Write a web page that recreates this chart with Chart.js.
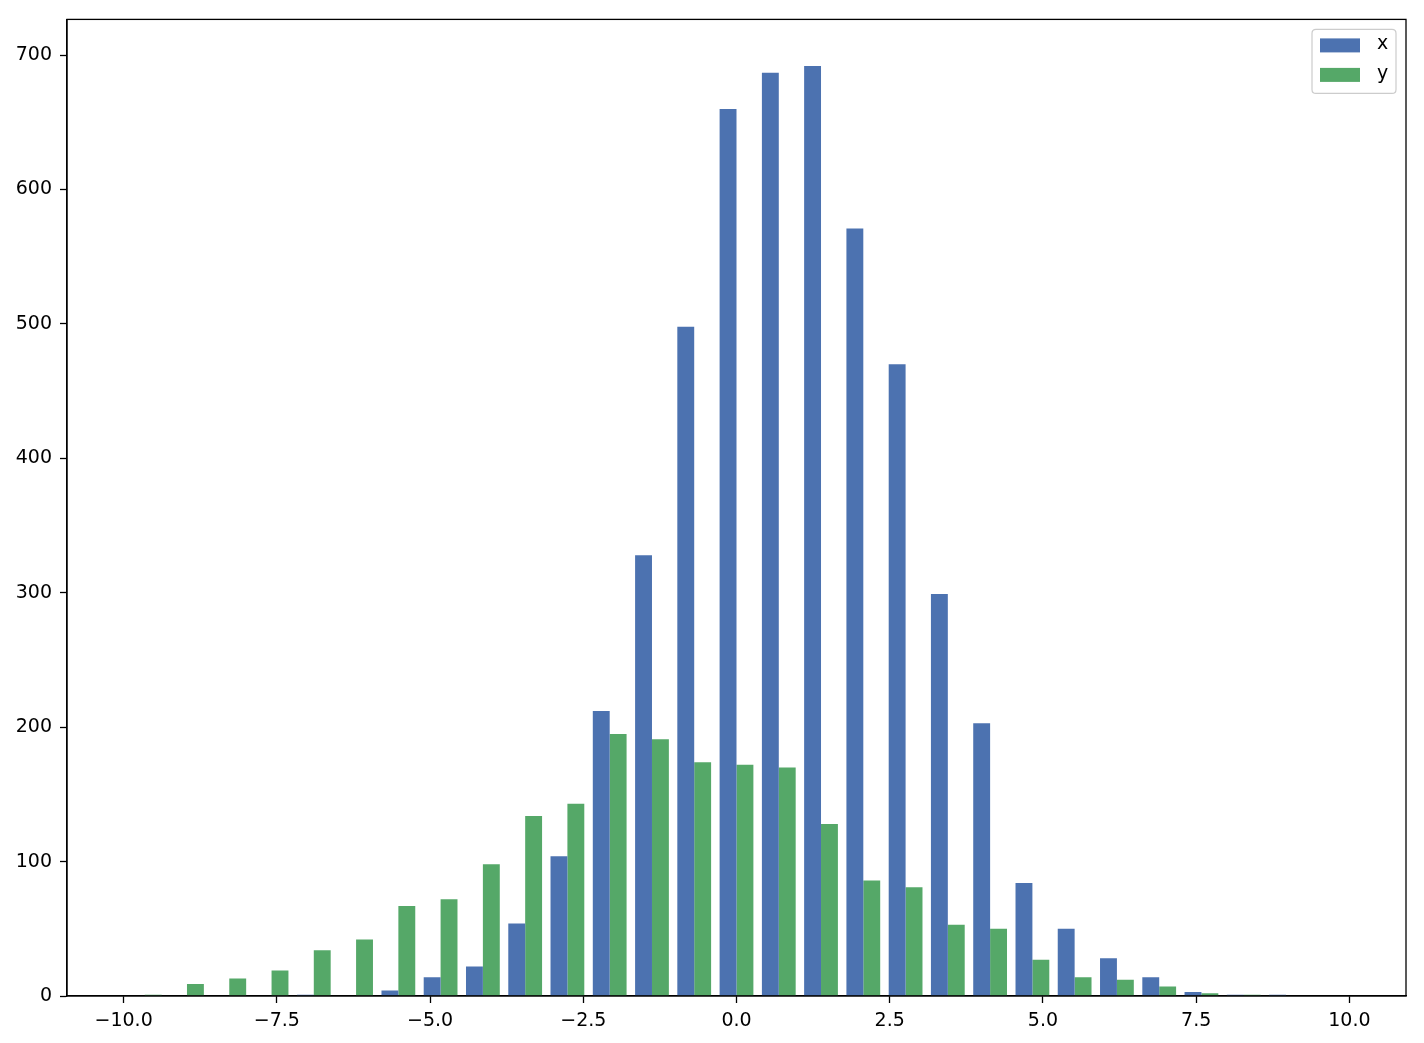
<!DOCTYPE html>
<html>
<head>
<meta charset="utf-8">
<script src="https://cdn.jsdelivr.net/npm/chart.js@4.4.1/dist/chart.umd.min.js"></script>
<style>
  html, body { margin: 0; padding: 0; background: #ffffff; }
  #wrap { width: 1424px; height: 1043px; position: relative; }
</style>
</head>
<body>
<div id="wrap"><canvas id="c" width="1424" height="1043"></canvas></div>
<script>
// Histogram bin centres (29 bins between -10 and 10)
const binCenters = [-9.655, -8.966, -8.276, -7.586, -6.897, -6.207, -5.517, -4.828, -4.138, -3.448,
                    -2.759, -2.069, -1.379, -0.690, 0.000, 0.690, 1.379, 2.069, 2.759, 3.448,
                    4.138, 4.828, 5.517, 6.207, 6.897, 7.586, 8.276, 8.966, 9.655];
// Counts per bin
const countsX = [0, 0, 0, 0, 1, 0, 4, 14, 22, 54, 104, 212, 328, 498, 660, 687, 692, 571, 470, 299,
                 203, 84, 50, 28, 14, 3, 1, 1, 0];
const countsY = [1, 9, 13, 19, 34, 42, 67, 72, 98, 134, 143, 195, 191, 174, 172, 170, 128, 86, 81, 53,
                 50, 27, 14, 12, 7, 2, 1, 0, 0];
const seriesLabels = ['x', 'y'];
const xTickValues = [-10, -7.5, -5, -2.5, 0, 2.5, 5, 7.5, 10];
const yTickValues = [0, 100, 200, 300, 400, 500, 600, 700];

const colorX = '#4C72B0';
const colorY = '#55A868';
const FONT = '"DejaVu Sans", sans-serif';

const binW = binCenters[1] - binCenters[0];
const lo = binCenters[0] - 0.4 * binW;
const hi = binCenters[binCenters.length - 1] + 0.4 * binW;
const padX = 0.05 * (hi - lo);
const yMax = Math.max(...countsX, ...countsY) * 1.05;

const frameAndLegend = {
  id: 'frameAndLegend',
  afterDatasetsDraw(chart) {
    const ctx = chart.ctx;
    const a = chart.chartArea;
    ctx.save();
    ctx.strokeStyle = '#000';
    ctx.lineWidth = 1.3;
    ctx.strokeRect(a.left, a.top, a.right - a.left, a.bottom - a.top);
    // legend
    const bw = 84, bh = 64;
    const bx = a.right - 10 - bw, by = a.top + 10;
    const r = 4;
    ctx.beginPath();
    ctx.moveTo(bx + r, by);
    ctx.lineTo(bx + bw - r, by);
    ctx.quadraticCurveTo(bx + bw, by, bx + bw, by + r);
    ctx.lineTo(bx + bw, by + bh - r);
    ctx.quadraticCurveTo(bx + bw, by + bh, bx + bw - r, by + bh);
    ctx.lineTo(bx + r, by + bh);
    ctx.quadraticCurveTo(bx, by + bh, bx, by + bh - r);
    ctx.lineTo(bx, by + r);
    ctx.quadraticCurveTo(bx, by, bx + r, by);
    ctx.closePath();
    ctx.fillStyle = 'rgba(255,255,255,0.8)';
    ctx.fill();
    ctx.strokeStyle = '#cccccc';
    ctx.lineWidth = 1.2;
    ctx.stroke();
    ctx.font = '19px ' + FONT;
    ctx.textBaseline = 'middle';
    ctx.textAlign = 'left';
    chart.data.datasets.forEach((ds, i) => {
      const ry = by + 9 + i * 29.5;
      ctx.fillStyle = ds.backgroundColor;
      ctx.fillRect(bx + 8, ry, 40, 14);
      ctx.fillStyle = '#000';
      ctx.fillText(ds.label, bx + 65, ry + 6);
    });
    ctx.restore();
  }
};

new Chart(document.getElementById('c'), {
  type: 'bar',
  data: {
    datasets: [
      { label: seriesLabels[0], data: binCenters.map((c, i) => ({ x: c, y: countsX[i] })),
        backgroundColor: colorX, borderWidth: 0 },
      { label: seriesLabels[1], data: binCenters.map((c, i) => ({ x: c, y: countsY[i] })),
        backgroundColor: colorY, borderWidth: 0 }
    ]
  },
  plugins: [frameAndLegend],
  options: {
    responsive: false,
    animation: false,
    devicePixelRatio: 1,
    layout: { padding: { top: 14, right: 18, left: 0, bottom: 0 } },
    datasets: { bar: { categoryPercentage: 0.8, barPercentage: 1.0 } },
    plugins: { legend: { display: false }, tooltip: { enabled: false } },
    scales: {
      x: {
        type: 'linear',
        offset: false,
        min: lo - padX,
        max: hi + padX,
        afterBuildTicks: s => { s.ticks = xTickValues.map(v => ({ value: v })); },
        afterFit: s => { s.height = 47; },
        grid: { display: true, drawOnChartArea: false, drawTicks: true, tickLength: 7,
                tickColor: '#000', tickWidth: 1.3, offset: false },
        border: { display: true, color: '#000', width: 1.3 },
        ticks: {
          autoSkip: false, maxRotation: 0, padding: 7, color: '#000',
          font: { family: FONT, size: 19 },
          callback: v => (v < 0 ? '\u2212' : '') + Math.abs(v).toFixed(1)
        }
      },
      y: {
        type: 'linear',
        min: 0,
        max: yMax,
        afterBuildTicks: s => { s.ticks = yTickValues.map(v => ({ value: v })); },
        afterFit: s => { s.width = 67; },
        grid: { display: true, drawOnChartArea: false, drawTicks: true, tickLength: 7,
                tickColor: '#000', tickWidth: 1.3 },
        border: { display: true, color: '#000', width: 1.3 },
        ticks: {
          padding: 8, color: '#000',
          font: { family: FONT, size: 19 },
          callback: v => String(v)
        }
      }
    }
  }
});
</script>
</body>
</html>
